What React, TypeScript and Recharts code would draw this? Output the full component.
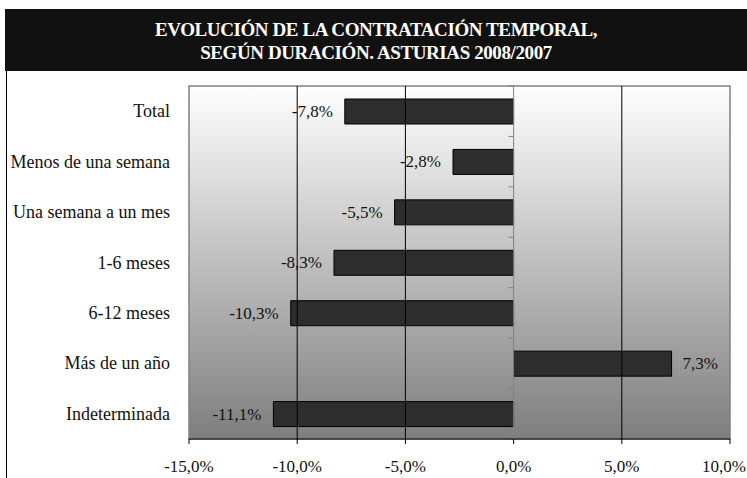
import {
  BarChart,
  Bar,
  XAxis,
  YAxis,
  ReferenceLine,
  ReferenceArea,
  LabelList,
} from "recharts"

const titleLines = [
  "EVOLUCIÓN DE LA CONTRATACIÓN TEMPORAL,",
  "SEGÚN DURACIÓN. ASTURIAS 2008/2007",
]

const categories = [
  "Total",
  "Menos de una semana",
  "Una semana a un mes",
  "1-6 meses",
  "6-12 meses",
  "Más de un año",
  "Indeterminada",
]

const variation = [-7.8, -2.8, -5.5, -8.3, -10.3, 7.3, -11.1]

const xTicks = [-15, -10, -5, 0, 5, 10]
const gridValues = [-10, -5, 5]

const data = categories.map((name, i) => ({ name, value: variation[i] }))

const font = "Liberation Serif, Times New Roman, serif"
const textStyle = { fontFamily: font, fontSize: 17, fill: "#111" }
const pct = (v: number) => v.toFixed(1).replace(".", ",") + "%"

// zero line with small marks at the category boundaries
function ZeroAxis(props: any) {
  const { x1, y1, x2, y2 } = props
  const n = categories.length
  const marks = []
  for (let i = 0; i <= n; i++) {
    const y = y1 + ((y2 - y1) * i) / n
    marks.push(
      <line key={i} x1={x1 - 5} x2={x1} y1={y} y2={y} stroke="#808080" />
    )
  }
  return (
    <g>
      <line x1={x1} y1={y1} x2={x2} y2={y2} stroke="#808080" />
      {marks}
    </g>
  )
}

function BarLabel(props: any) {
  const { x, y, width, height, value } = props
  const left = Math.min(x, x + width)
  const right = Math.max(x, x + width)
  const neg = value < 0
  return (
    <text
      x={neg ? left - 12 : right + 11}
      y={y + height / 2}
      textAnchor={neg ? "end" : "start"}
      dominantBaseline="central"
      style={textStyle}
    >
      {pct(value)}
    </text>
  )
}

function XTick(props: any) {
  const { x, y, payload } = props
  const last = payload.value === xTicks[xTicks.length - 1]
  return (
    <text
      x={last ? x + 16 : x}
      y={y}
      dy={18}
      textAnchor={last ? "end" : "middle"}
      style={textStyle}
    >
      {pct(payload.value)}
    </text>
  )
}

function YTick(props: any) {
  const { x, y, payload } = props
  return (
    <text
      x={x}
      y={y}
      textAnchor="end"
      dominantBaseline="central"
      style={{ ...textStyle, fontSize: 18 }}
    >
      {payload.value}
    </text>
  )
}

export default function App() {
  return (
    <div
      style={{
        position: "absolute",
        left: 0,
        top: 0,
        width: 747,
        height: 478,
        background: "#fff",
        fontFamily: font,
        overflow: "hidden",
      }}
    >
      <div
        style={{
          position: "absolute",
          left: 5,
          top: 9,
          width: 742,
          height: 62,
          background: "#111",
          color: "#fff",
          fontWeight: "bold",
          fontSize: 19,
          letterSpacing: -0.4,
          lineHeight: "23px",
          textAlign: "center",
          paddingTop: 9,
          boxSizing: "border-box",
        }}
      >
        {titleLines.map((t) => (
          <div key={t}>{t}</div>
        ))}
      </div>
      <div
        style={{
          position: "absolute",
          left: 6,
          top: 71,
          width: 1,
          height: 407,
          background: "#000",
        }}
      />
      <div style={{ position: "absolute", left: 0, top: 0 }}>
        <BarChart
          width={747}
          height={478}
          data={data}
          layout="vertical"
          margin={{ top: 86, right: 17, bottom: 0, left: 0 }}
          barCategoryGap={0}
        >
          <defs>
            <linearGradient id="bg" x1="0" y1="0" x2="0" y2="1">
              <stop offset="0%" stopColor="#ffffff" />
              <stop offset="100%" stopColor="#7e7e7e" />
            </linearGradient>
          </defs>
          <XAxis
            type="number"
            domain={[-15, 10]}
            ticks={xTicks}
            allowDataOverflow
            height={39}
            axisLine={{ stroke: "#000" }}
            tickLine={{ stroke: "#000" }}
            tickSize={5}
            tickMargin={10}
            tick={XTick}
          />
          <YAxis
            type="category"
            dataKey="name"
            width={189}
            axisLine={false}
            tickLine={false}
            tickSize={0}
            tickMargin={19}
            interval={0}
            tick={YTick}
          />
          <ReferenceArea
            x1={-15}
            x2={10}
            fill="url(#bg)"
            fillOpacity={1}
            stroke="#808080"
            strokeWidth={1.5}
          />
          {gridValues.map((v) => (
            <ReferenceLine key={v} x={v} stroke="#000" strokeWidth={1} />
          ))}
          <ReferenceLine x={0} shape={ZeroAxis} />
          <Bar
            dataKey="value"
            fill="#2d2d2d"
            stroke="#000"
            strokeWidth={1}
            barSize={25}
            isAnimationActive={false}
          >
            <LabelList dataKey="value" content={BarLabel} />
          </Bar>
        </BarChart>
      </div>
    </div>
  )
}
